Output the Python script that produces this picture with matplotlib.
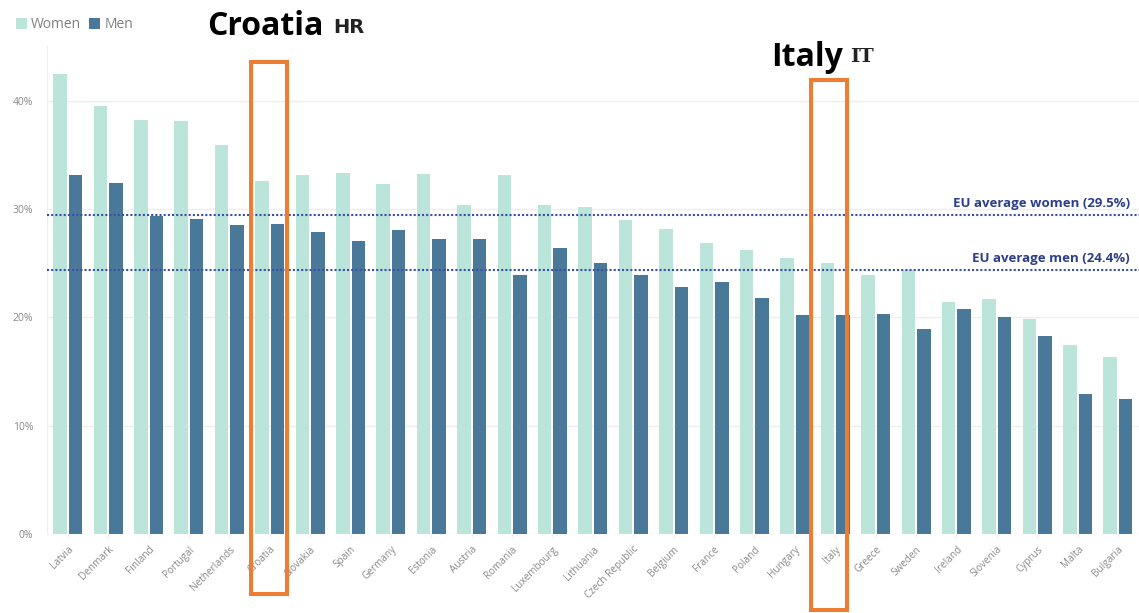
import matplotlib
matplotlib.use("Agg")
import matplotlib.pyplot as plt
from matplotlib.patches import Rectangle
import numpy as np

# Data (share in %)
countries = ["Latvia", "Denmark", "Finland", "Portugal", "Netherlands", "Croatia",
             "Slovakia", "Spain", "Germany", "Estonia", "Austria", "Romania",
             "Luxembourg", "Lithuania", "Czech Republic", "Belgium", "France",
             "Poland", "Hungary", "Italy", "Greece", "Sweden", "Ireland",
             "Slovenia", "Cyprus", "Malta", "Bulgaria"]
women = [42.5, 39.5, 38.2, 38.1, 35.9, 32.6, 33.1, 33.3, 32.3, 33.2, 30.4, 33.1,
         30.4, 30.2, 29.0, 28.2, 26.9, 26.2, 25.5, 25.0, 23.9, 24.4, 21.4, 21.7,
         19.9, 17.5, 16.4]
men = [33.1, 32.4, 29.4, 29.1, 28.5, 28.6, 27.9, 27.1, 28.1, 27.2, 27.2, 23.9,
       26.4, 25.0, 23.9, 22.8, 23.3, 21.8, 20.2, 20.2, 20.3, 18.9, 20.8, 20.0,
       18.3, 12.9, 12.5]
eu_women = 29.5
eu_men = 24.4
yticks = [0, 10, 20, 30, 40]

WOMEN_C = "#bbe4da"
MEN_C = "#4a7899"
AVG_C = "#3a4fa3"
AVG_TXT = "#2c3e8c"
ORANGE = "#ed7d31"
GRID_C = "#eeeeee"
TICK_C = "#8a8a8a"

W, H = 1139, 613
fig = plt.figure(figsize=(W / 100, H / 100), dpi=100)
ax = fig.add_axes([47 / W, (H - 534.3) / H, 1 - 47 / W, (534.3 - 46.5) / H])

x = np.arange(len(countries))
bw = 0.334
off = 0.192
ax.bar(x - off, women, width=bw, color=WOMEN_C, label="Women", zorder=2)
ax.bar(x + off, men, width=bw, color=MEN_C, label="Men", zorder=2)

ax.set_xlim(-0.514, 26.52)
ax.set_ylim(0, 45)
ax.set_yticks(yticks)
ax.set_yticklabels([f"{v}%" for v in yticks], fontsize=7.5, color=TICK_C,
                   family=["Open Sans", "DejaVu Sans"])
ax.set_xticks(x)
ax.set_xticklabels(countries, rotation=45, ha="right", rotation_mode="anchor",
                   fontsize=7.2, color=TICK_C, family=["Open Sans", "DejaVu Sans"])
ax.tick_params(axis="x", length=3, color=GRID_C, pad=4)
ax.tick_params(axis="y", length=0, pad=10)
ax.grid(axis="y", color=GRID_C, linewidth=1, zorder=0)
for s in ["top", "right", "bottom"]:
    ax.spines[s].set_visible(False)
ax.spines["left"].set_color(GRID_C)

# EU averages
ax.axhline(eu_women, color=AVG_C, linestyle=(0, (1, 1)), linewidth=1.5, zorder=3)
ax.axhline(eu_men, color=AVG_C, linestyle=(0, (1, 1)), linewidth=1.5, zorder=3)
ax.text(26.29, eu_women + 0.45, f"EU average women ({eu_women}%)", ha="right",
        va="bottom", fontsize=9.5, fontweight="bold", color=AVG_TXT,
        family=["Open Sans", "DejaVu Sans"])
ax.text(26.29, eu_men + 0.45, f"EU average men ({eu_men}%)", ha="right",
        va="bottom", fontsize=9.5, fontweight="bold", color=AVG_TXT,
        family=["Open Sans", "DejaVu Sans"])

# legend
fig.legend(loc="upper left", bbox_to_anchor=(3 / W, 1 - 5 / H), ncol=2,
           frameon=False, handlelength=0.8, handleheight=0.8,
           handletextpad=0.3, columnspacing=0.6, labelcolor="#808080",
           prop={"family": ["Open Sans", "DejaVu Sans"], "size": 10})

# highlight boxes and labels (pixel positions)
def px(xp, yp):
    return xp / W, 1 - yp / H

for (x0, y0, x1, y1) in [(251, 62, 287, 594), (811, 80, 847, 610)]:
    fig.patches.append(Rectangle(px(x0, y1), (x1 - x0) / W, (y1 - y0) / H,
                                 transform=fig.transFigure, fill=False,
                                 edgecolor=ORANGE, linewidth=2.9, zorder=10))

fig.text(*px(207, 35), "Croatia", fontsize=23, fontweight="bold",
         family=["Open Sans", "DejaVu Sans"], va="baseline", ha="left")
fig.text(*px(333, 33), "HR", fontsize=14, fontweight="bold",
         family=["DejaVu Sans"], va="baseline", ha="left", color="#222222")
fig.text(*px(771, 66), "Italy", fontsize=23, fontweight="bold",
         family=["Open Sans", "DejaVu Sans"], va="baseline", ha="left")
fig.text(*px(850, 62), "IT", fontsize=14, fontweight="bold",
         family=["DejaVu Serif"], va="baseline", ha="left", color="#222222")

fig.savefig("out.png", dpi=100)
